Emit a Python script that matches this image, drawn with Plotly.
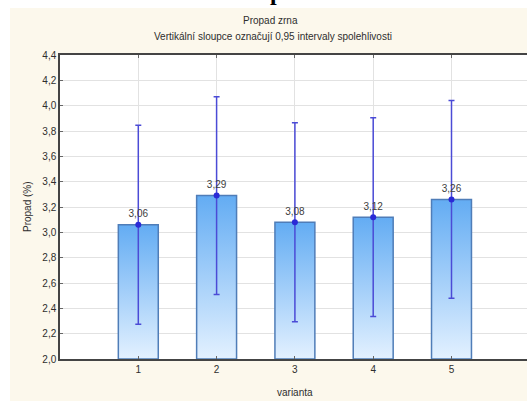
import plotly.graph_objects as go

# Data: mean grain loss per variant with 0.95 confidence half-widths
varianta = [1, 2, 3, 4, 5]
tick_labels = ["1", "2", "3", "4", "5"]
propad = [3.06, 3.29, 3.08, 3.12, 3.26]
ci_half = [0.785, 0.78, 0.785, 0.785, 0.78]

y_min, y_max = 2.0, 4.4
bar_width = 0.51

W, H = 527, 401
L, R, T, B = 60, 0, 55, 42
plot_w = W - L - R
plot_h = H - T - B
unit_px = 78.3  # pixel width of one category step
x_range = [0, plot_w / unit_px]

cream = "#FCF8EC"
txt = "#2E2E2E"
font_family = "Liberation Sans, Arial, sans-serif"


def px_x(p):
    return (p - L) / plot_w


def px_y(p):
    return (H - B - p) / plot_h


fig = go.Figure()

# Bars as gradient-filled polygons
for xc, v in zip(varianta, propad):
    xs = [xc - bar_width / 2, xc - bar_width / 2, xc + bar_width / 2, xc + bar_width / 2, xc - bar_width / 2]
    ys = [y_min, v, v, y_min, y_min]
    fig.add_trace(go.Scatter(
        x=xs, y=ys, mode="lines", fill="toself",
        fillgradient=dict(type="vertical",
                          colorscale=[[0, "#E3F1FF"], [1, "#63ACF3"]]),
        line=dict(color="#4F7DB8", width=1.5),
        hoverinfo="skip", showlegend=False,
    ))

# Means with confidence intervals and value labels
fig.add_trace(go.Scatter(
    x=varianta, y=propad, mode="markers+text",
    marker=dict(color="#2A2AD6", size=6),
    error_y=dict(type="data", array=ci_half, visible=True,
                 color="#4B4BD6", thickness=1.5, width=3),
    text=[f"{v:.2f}".replace(".", ",") for v in propad],
    textposition="top center",
    textfont=dict(size=10, color="#404040", family=font_family),
    showlegend=False,
))


def label(text, x, y, **kw):
    base = dict(text=text, x=px_x(x), y=px_y(y), xref="paper", yref="paper",
                xanchor="center", yanchor="middle", showarrow=False,
                font=dict(size=10, color=txt, family=font_family))
    base.update(kw)
    return base


annotations = [
    label("Propad zrna", 270, 20),
    label("Vertikální sloupce označují 0,95 intervaly spolehlivosti", 273, 36),
    label("varianta", 295, 392),
    label("Propad (%)", 27, 207, textangle=-90),
    label("<b>p</b>", 276, 7, yanchor="bottom",
          font=dict(size=24, color="#000000", family="Liberation Serif, serif")),
]

shapes = [
    # white page strips outside the chart panel
    dict(type="rect", xref="paper", yref="paper", x0=px_x(0), x1=px_x(W),
         y0=px_y(8), y1=px_y(-5), fillcolor="white", line_width=0, layer="below"),
    dict(type="rect", xref="paper", yref="paper", x0=px_x(-5), x1=px_x(10),
         y0=px_y(H + 5), y1=px_y(0), fillcolor="white", line_width=0, layer="below"),
]

fig.update_layout(
    width=W, height=H,
    margin=dict(l=L, r=R, t=T, b=B, pad=0),
    paper_bgcolor=cream, plot_bgcolor="white",
    separators=", ",
    font=dict(family=font_family, size=10, color=txt),
    annotations=annotations,
    shapes=shapes,
    xaxis=dict(
        range=x_range, tickmode="array", tickvals=varianta, ticktext=tick_labels,
        showgrid=True, gridcolor="#E2E2E2", gridwidth=1,
        showline=True, linecolor="#444444", linewidth=1.5, mirror="ticks",
        ticks="inside", ticklen=3, tickcolor="#666666",
        tickfont=dict(size=10, color=txt), zeroline=False, fixedrange=True,
    ),
    yaxis=dict(
        range=[y_min, y_max], dtick=0.2, tick0=y_min, tickformat=".1f",
        showgrid=True, gridcolor="#E2E2E2", gridwidth=1,
        showline=True, linecolor="#444444", linewidth=1.5,
        ticks="inside", ticklen=3, tickcolor="#666666",
        tickfont=dict(size=10, color=txt), zeroline=False, fixedrange=True,
    ),
)

fig.write_html("out.html")
